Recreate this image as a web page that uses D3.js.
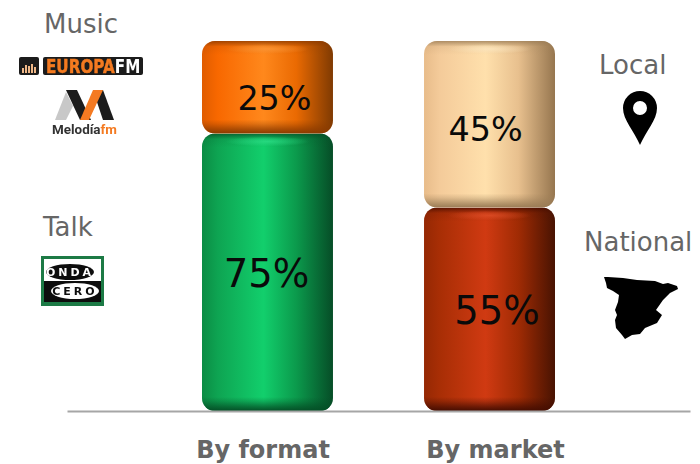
<!DOCTYPE html>
<html>
<head>
<meta charset="utf-8">
<script src="https://cdn.jsdelivr.net/npm/d3@7"></script>
<style>
html,body{margin:0;padding:0;background:#fff;}
svg{display:block;}
text{font-family:"DejaVu Sans",Verdana,sans-serif;}
</style>
</head>
<body>
<svg id="chart" width="700" height="464"></svg>
<script>
// Audience split of the radio group, shown as two stacked columns
const categories = ["By format", "By market"];
const lowerShares = [75, 55];
const upperShares = [25, 45];
const lowerColors = ["green", "red"];
const upperColors = ["orange", "tan"];

const rows = categories.map((c, i) => ({
  category: c, lower: lowerShares[i], upper: upperShares[i],
  lowerColor: lowerColors[i], upperColor: upperColors[i]
}));

// Horizontal shading ramps for each bar colour: edge, body, highlight, shoulder, shadow
const ramps = {
  orange: ["#e05c00", "#f86800", "#ff881c", "#ea6a02", "#7f3a02"],
  green:  ["#0b8c44", "#0ea452", "#12cf6c", "#0b9a4c", "#064d27"],
  tan:    ["#e8bc8a", "#f4cb9a", "#ffe0ac", "#e8c08e", "#96764f"],
  red:    ["#952803", "#a82e05", "#d03a12", "#a02b04", "#481302"]
};
const bevelDark = { orange: "#8a3a00", green: "#044f26", tan: "#9a7c56", red: "#450d01" };
const bevelLight = { orange: "#ff9a3a", green: "#2fe28a", tan: "#ffeac4", red: "#e4512a" };

const svg = d3.select("#chart");
const defs = svg.append("defs");

// Slight softening for the small raster-like brand marks
defs.append("filter").attr("id", "soft").append("feGaussianBlur").attr("stdDeviation", 0.45);

const x = d3.scaleBand().domain(categories).range([67, 690])
  .paddingInner(0.41).paddingOuter(0.608);
const y = d3.scaleLinear().domain([0, 100]).range([411, 41]);

const stack = d3.stack().keys(["lower", "upper"]);
const layers = stack(rows);

// Gradients shared by every segment of one colour
Object.keys(ramps).forEach(name => {
  const g = defs.append("linearGradient").attr("id", "body-" + name);
  [0, 0.12, 0.47, 0.72, 1].forEach((o, i) =>
    g.append("stop").attr("offset", o).attr("stop-color", ramps[name][i]));

  const top = defs.append("linearGradient").attr("id", "top-" + name)
    .attr("x1", 0).attr("x2", 0).attr("y1", 0).attr("y2", 1);
  top.append("stop").attr("offset", 0).attr("stop-color", bevelDark[name]).attr("stop-opacity", 0.8);
  top.append("stop").attr("offset", 0.4).attr("stop-color", bevelDark[name]).attr("stop-opacity", 0.12);
  top.append("stop").attr("offset", 1).attr("stop-color", bevelDark[name]).attr("stop-opacity", 0);

  const bottom = defs.append("linearGradient").attr("id", "bottom-" + name)
    .attr("x1", 0).attr("x2", 0).attr("y1", 0).attr("y2", 1);
  bottom.append("stop").attr("offset", 0).attr("stop-color", bevelDark[name]).attr("stop-opacity", 0);
  bottom.append("stop").attr("offset", 0.3).attr("stop-color", bevelDark[name]).attr("stop-opacity", 0.25);
  bottom.append("stop").attr("offset", 0.7).attr("stop-color", bevelDark[name]).attr("stop-opacity", 0.7);
  bottom.append("stop").attr("offset", 1).attr("stop-color", bevelDark[name]).attr("stop-opacity", 1);

  const glow = defs.append("radialGradient").attr("id", "glow-" + name);
  glow.append("stop").attr("offset", 0).attr("stop-color", bevelLight[name]).attr("stop-opacity", 0.7);
  glow.append("stop").attr("offset", 1).attr("stop-color", bevelLight[name]).attr("stop-opacity", 0);
});

// One bevelled column segment
function segment(sel, xPos, width, y0, y1, name) {
  const h = y0 - y1, r = 13, bevel = 14;
  const clipId = "clip-" + name;
  defs.append("clipPath").attr("id", clipId).append("rect")
    .attr("x", xPos).attr("y", y1).attr("width", width).attr("height", h).attr("rx", r);
  const g = sel.append("g").attr("clip-path", `url(#${clipId})`);
  g.append("rect").attr("x", xPos).attr("y", y1).attr("width", width).attr("height", h)
    .attr("fill", `url(#body-${name})`);
  g.append("rect").attr("x", xPos).attr("y", y1).attr("width", width).attr("height", bevel)
    .attr("fill", `url(#top-${name})`);
  g.append("ellipse").attr("cx", xPos + width * 0.5).attr("cy", y1 + 8).attr("rx", width * 0.32).attr("ry", 5)
    .attr("fill", `url(#glow-${name})`);
  g.append("rect").attr("x", xPos).attr("y", y0 - bevel).attr("width", width).attr("height", bevel)
    .attr("fill", `url(#bottom-${name})`);
}

const plot = svg.append("g");
rows.forEach((row, i) => {
  segment(plot, x(row.category), x.bandwidth(), y(layers[0][i][0]), y(layers[0][i][1]), row.lowerColor);
  segment(plot, x(row.category), x.bandwidth(), y(layers[1][i][0]), y(layers[1][i][1]), row.upperColor);
});

// Baseline and category labels
const axis = svg.append("g").attr("transform", "translate(0,411)")
  .call(d3.axisBottom(x).tickSize(0).tickPadding(30));
axis.select(".domain").attr("stroke", "#a6a6a6").attr("stroke-width", 2);
axis.selectAll("text").attr("fill", "#666666").attr("font-size", 24).attr("font-weight", "bold")
  .attr("dx", (d, i) => (i === 0 ? -4.5 : 6))
  .style("font-family", '"DejaVu Sans",Verdana,sans-serif');

// Value labels, placed by hand inside their segments
const valueLabel = (value, dx, cy, size, cat) => svg.append("text")
  .attr("x", x(cat) + x.bandwidth() / 2 + dx).attr("y", cy)
  .attr("text-anchor", "middle").attr("dominant-baseline", "central")
  .attr("font-size", size).attr("fill", "#0a0a0a").text(value + "%");
valueLabel(upperShares[0], 7, 98, 33.4, categories[0]);
valueLabel(lowerShares[0], -1, 273, 38.5, categories[0]);
valueLabel(upperShares[1], -4, 129, 33.4, categories[1]);
valueLabel(lowerShares[1], 7.5, 310, 38.5, categories[1]);

// Group captions
const caption = (t, xPos, yPos) => svg.append("text").attr("x", xPos).attr("y", yPos)
  .attr("font-size", 26).attr("fill", "#666666").text(t);
caption("Music", 44, 33);
caption("Talk", 43, 236);
caption("Local", 599, 74);
caption("National", 584, 251);

// Europa FM mark; the wordmark is squeezed horizontally to fit its plate
const eu = svg.append("g").attr("filter", "url(#soft)");
eu.append("rect").attr("x", 19).attr("y", 57).attr("width", 20).attr("height", 18).attr("rx", 2).attr("fill", "#1c1c1c");
[[22,68],[25,65],[28,66],[31,64],[34,67]].forEach(b =>
  eu.append("rect").attr("x", b[0]).attr("y", b[1]).attr("width", 2).attr("height", 73 - b[1]).attr("fill", "#f0b888"));
eu.append("rect").attr("x", 43).attr("y", 57).attr("width", 100).attr("height", 18).attr("rx", 2).attr("fill", "#1c1c1c");
const euText = eu.append("text").attr("transform", "translate(46,73) scale(0.8,1)")
  .attr("font-size", 19).attr("font-weight", "bold");
euText.append("tspan").attr("fill", "#f47a20").attr("stroke", "#f47a20").attr("stroke-width", 0.5).text("EUROPA");
euText.append("tspan").attr("fill", "#ffffff").text("FM");

// Melodia FM mark
const me = svg.append("g").attr("filter", "url(#soft)");
me.append("path").attr("fill", "#c8c8c8").attr("d", "M55 120L66 92L73 106L66 120Z");
me.append("path").attr("fill", "#1c1c1c").attr("d", "M66 90L77 90L91 120L80 120Z");
me.append("path").attr("fill", "#1c1c1c").attr("d", "M93 90L103 90L114 120L103 120Z");
me.append("path").attr("fill", "#f47a20").attr("d", "M80 120L93 90L103 90L89 120Z");
const meText = me.append("text").attr("x", 52).attr("y", 134).attr("font-size", 12).attr("font-weight", "bold")
  .attr("textLength", 65).attr("lengthAdjust", "spacingAndGlyphs").style("font-family", "Roboto");
meText.append("tspan").attr("fill", "#333").text("Melodía");
meText.append("tspan").attr("fill", "#f47a20").text("fm");

// Onda Cero mark
const on = svg.append("g").attr("filter", "url(#soft)");
on.append("rect").attr("x", 41).attr("y", 256).attr("width", 63).attr("height", 50).attr("fill", "#1f7a45");
on.append("rect").attr("x", 44).attr("y", 259).attr("width", 57).attr("height", 43).attr("fill", "#fff");
on.append("rect").attr("x", 44).attr("y", 281).attr("width", 57).attr("height", 21).attr("fill", "#111");
on.append("ellipse").attr("cx", 70).attr("cy", 272).attr("rx", 24).attr("ry", 8).attr("fill", "#111");
on.append("ellipse").attr("cx", 75).attr("cy", 291).attr("rx", 24).attr("ry", 8).attr("fill", "#fff");
on.append("text").attr("x", 70).attr("y", 276).attr("text-anchor", "middle").attr("font-size", 11)
  .attr("font-weight", "bold").attr("letter-spacing", 3).attr("fill", "#fff").text("ONDA");
on.append("text").attr("x", 75).attr("y", 295).attr("text-anchor", "middle").attr("font-size", 11)
  .attr("font-weight", "bold").attr("letter-spacing", 3).attr("fill", "#111").text("CERO");

// Map pin
svg.append("path").attr("fill", "#000").attr("fill-rule", "evenodd")
  .attr("d", "M640 145C634 131 623 120 623 108A17 17 0 0 1 657 108C657 120 646 131 640 145Z M640 101A7 7 0 1 0 640 115A7 7 0 1 0 640 101Z");

// Outline of Spain
svg.append("path").attr("fill", "#000")
  .attr("d", "M604 277L608 277L623 278L637 280L655 281L663 284L668 283L677 286L678 289L670 293L663 300L656 310L662 315L657 323L645 328L640 334L632 335L625 339L622 335L616 328L615 320L617 315L615 310L618 302L619 295L613 291L607 288L606 283Z");
</script>
</body>
</html>
